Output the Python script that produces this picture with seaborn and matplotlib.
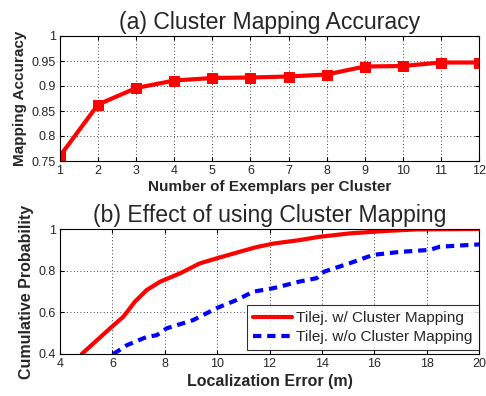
import matplotlib
matplotlib.use("Agg")
import matplotlib.pyplot as plt
import seaborn as sns
import pandas as pd

# (a) mapping accuracy vs. number of exemplars
exemplars = [1, 2, 3, 4, 5, 6, 7, 8, 9, 10, 11, 12]
accuracy = [0.760, 0.863, 0.896, 0.911, 0.916, 0.917, 0.919, 0.923, 0.939, 0.940, 0.947, 0.947]

# (b) CDF of localization error
err_with = [4.83, 5.27, 5.91, 6.42, 6.86, 7.31, 7.82, 8.58, 9.34, 9.98, 10.87, 11.5,
            12.15, 13.16, 13.93, 15.07, 16.35, 17.6, 20.0]
cdf_with = [0.40, 0.45, 0.523, 0.579, 0.651, 0.707, 0.747, 0.787, 0.835, 0.859, 0.891, 0.913,
            0.930, 0.947, 0.963, 0.979, 0.990, 0.998, 1.0]
err_without = [6.04, 6.55, 7.31, 7.69, 8.07, 9.09, 9.98, 10.74, 11.38, 12.15, 13.16, 13.8, 14.1,
               15.07, 15.96, 16.98, 18.13, 18.5, 20.0]
cdf_without = [0.40, 0.442, 0.482, 0.49, 0.523, 0.563, 0.62, 0.659, 0.699, 0.716, 0.748, 0.764,
               0.796, 0.836, 0.876, 0.890, 0.900, 0.915, 0.926]

label_with = "Tilej. w/ Cluster Mapping"
label_without = "Tilej. w/o Cluster Mapping"

sns.set_style("white")
plt.rcParams["font.family"] = ["Liberation Sans", "DejaVu Sans"]

fig = plt.figure(figsize=(4.86, 3.96), dpi=100)
ax1 = fig.add_axes([60 / 486, 1 - 161 / 396, 419 / 486, 125 / 396])
ax2 = fig.add_axes([60 / 486, 1 - 354 / 396, 419 / 486, 125 / 396])

df_a = pd.DataFrame({"x": exemplars, "y": accuracy})
sns.lineplot(data=df_a, x="x", y="y", ax=ax1, color="#ff0000", lw=3.0,
             marker="s", markersize=7, markeredgecolor="#ff0000")

df_w = pd.DataFrame({"x": err_with, "y": cdf_with})
df_wo = pd.DataFrame({"x": err_without, "y": cdf_without})
sns.lineplot(data=df_w, x="x", y="y", ax=ax2, color="#ff0000", lw=3.0, label=label_with)
sns.lineplot(data=df_wo, x="x", y="y", ax=ax2, color="#0000ff", lw=3.0,
             linestyle=(0, (2.0, 1.4)), label=label_without)

for ax in (ax1, ax2):
    ax.grid(True, color="black", linestyle=(0, (1, 3)), linewidth=0.6)
    for s in ax.spines.values():
        s.set_color("black")
        s.set_linewidth(0.8)
    ax.tick_params(direction="in", length=3, labelsize=9, color="black", pad=3,
                   top=True, right=True, bottom=True, left=True)

ax1.set_xlim(1, 12)
ax1.set_ylim(0.75, 1.0)
ax1.set_xticks(exemplars)
ax1.set_yticks([0.75, 0.8, 0.85, 0.9, 0.95, 1.0])
ax1.set_yticklabels(["0.75", "0.8", "0.85", "0.9", "0.95", "1"])
ax1.set_xlabel("Number of Exemplars per Cluster", fontsize=11, fontweight="bold", labelpad=2)
ax1.set_ylabel("Mapping Accuracy", fontsize=11, fontweight="bold", labelpad=3)
ax1.set_title("(a) Cluster Mapping Accuracy", fontsize=16.6, pad=5)

ax2.set_xlim(4, 20)
ax2.set_ylim(0.4, 1.0)
ax2.set_xticks(range(4, 21, 2))
ax2.set_yticks([0.4, 0.6, 0.8, 1.0])
ax2.set_yticklabels(["0.4", "0.6", "0.8", "1"])
ax2.set_xlabel("Localization Error (m)", fontsize=11.5, fontweight="bold", labelpad=3)
ax2.set_ylabel("Cumulative Probability", fontsize=11.5, fontweight="bold", labelpad=3)
ax2.set_title("(b) Effect of using Cluster Mapping", fontsize=16.6, pad=5)

leg = ax2.legend(loc="lower right", bbox_to_anchor=(1.0, 0.03), fontsize=11.1,
                 frameon=True, fancybox=False, borderaxespad=0.0,
                 handlelength=2.5, handletextpad=0.3,
                 borderpad=0.4, labelspacing=0.3)
leg.get_frame().set_edgecolor("black")
leg.get_frame().set_linewidth(0.8)

fig.savefig("out.png", dpi=100)
